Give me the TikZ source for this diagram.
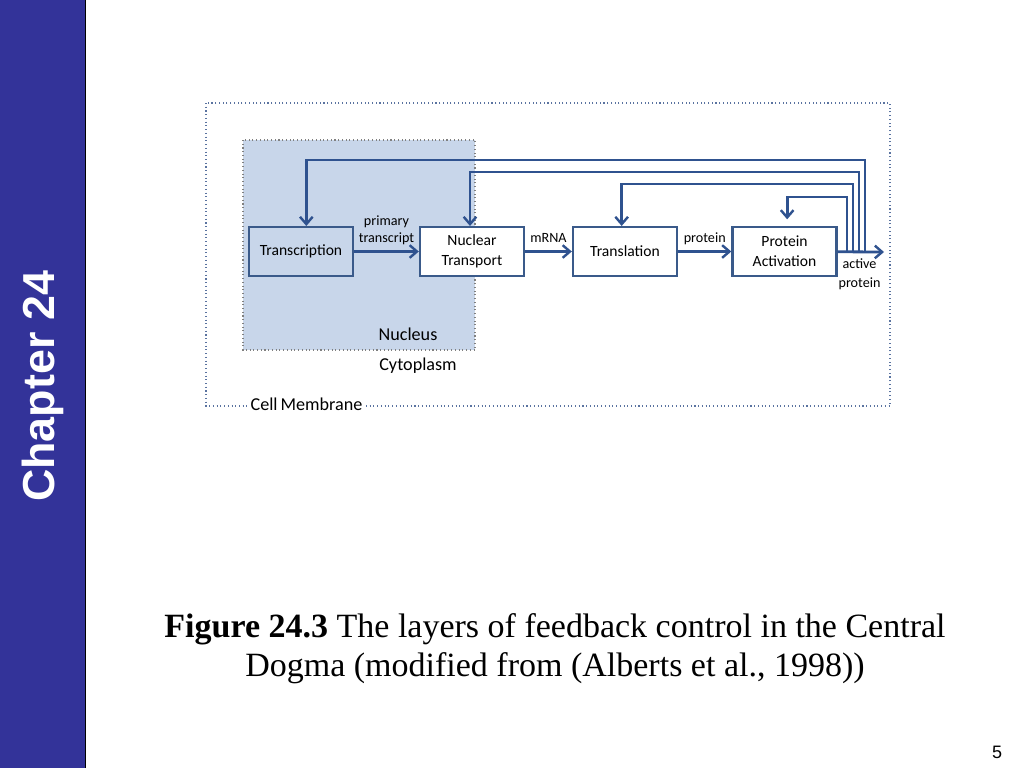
\documentclass[tikz,border=0pt]{standalone}
\usepackage{fontspec}
\setmainfont{Carlito}
\newfontfamily\arialfont{Liberation Sans}
\newfontfamily\timesfont{Liberation Serif}
\usetikzlibrary{arrows.meta}
\definecolor{sidebar}{RGB}{51,51,153}
\definecolor{boxline}{RGB}{58,90,138}
\definecolor{arrowc}{RGB}{47,82,143}
\definecolor{nucfill}{RGB}{200,214,234}
\definecolor{dotc}{RGB}{90,115,160}
\begin{document}
\begin{tikzpicture}
      [x=0.75pt,y=-0.75pt,
      %%%%%%%%%%%%%%%%%%%%%%%%%%%%%%
      box/.style={rectangle,draw=boxline,line width=1.8pt,minimum width=78pt,minimum height=36.5pt,align=center,font=\fontsize{11.7}{15}\selectfont},
      lbl/.style={align=center,inner sep=2.5pt,text depth=3pt,font=\fontsize{10.6}{13}\selectfont},
      region/.style={font=\fontsize{13.6}{16}\selectfont},
      flow/.style={draw=arrowc,line width=2.1pt,-{Straight Barb[length=5.5pt,width=9.5pt,line width=1.8pt]}},
      ]%%%%%%%%%%%%%%%%%%%%%%%%%%%%%%
      \useasboundingbox (0,0) rectangle (1024,768);
      \fill[white] (0,0) rectangle (1024,768);

      % side bar
      \fill[sidebar] (0,0) rectangle (85,768);
      \draw[black,line width=0.8pt] (85.5,0) -- (85.5,768);
      \node[rotate=90,text=white,font=\arialfont\bfseries\fontsize{33.6}{38}\selectfont] (chap) at (43,386) {Chapter 24};

      % cell and nucleus
      \draw[dotc,line width=0.8pt,dotted] (206,103) rectangle (890,406);
      \fill[nucfill] (243,140) rectangle (475,350);
      \draw[gray,line width=0.8pt,dotted] (243,140) rectangle (475,350);
      \node[region,fill=white,inner sep=3pt] (memb) at (306.5,404) {Cell\,Membrane};
      \node[region] (nuc) at (408,334) {Nucleus};
      \node[region] (cyto) at (418,366) {Cytoplasm};

      % steps
      \node[box] (trc) at (301,251.5) {Transcription};
      \node[box,fill=white] (ntr) at (472,251.5) {Nuclear\\Transport};
      \node[box,fill=white] (tsl) at (625,251.5) {Translation};
      \node[box,fill=white] (pac) at (784.5,251.5) {Protein\\Activation};
      \coordinate (out) at (884,252);

      \draw[flow] (trc) -- node[lbl,above] (l1) {primary\\transcript} (ntr);
      \draw[flow] (ntr) -- node[lbl,above] (l2) {mRNA} (tsl);
      \draw[flow] (tsl) -- node[lbl,above] (l3) {protein} (pac);
      \draw[flow] (pac) -- node[lbl,below,xshift=-1pt,inner sep=4pt,text depth=0pt,font=\fontsize{10.6}{14}\selectfont] (l4) {active\\protein} (out);

      % feedback loops
      \coordinate (b1) at (865,252);
      \coordinate (b2) at (859,252);
      \coordinate (b3) at (853,252);
      \coordinate (b4) at (847,252);
      \draw[flow] (b1) -- (865,160) -| ([xshift=4pt]trc.north);
      \draw[flow] (b2) -- (859,172) -| ([xshift=-1.5pt]ntr.north);
      \draw[flow] (b3) -- (853,184) -| ([xshift=-2.5pt]tsl.north);
      \draw[flow,shorten >=5pt] (b4) -- (847,197) -| ([xshift=2pt]pac.north);

      % caption
      \node[align=center,font=\timesfont\fontsize{25.5}{29}\selectfont] (cap) at (555,649)
        {\textbf{Figure 24.3} The layers of feedback control in the Central\\Dogma (modified from (Alberts et al., 1998))};
      \node[font=\arialfont\fontsize{13.5}{16}\selectfont] (page) at (997,752) {5};
    \end{tikzpicture}
\end{document}
